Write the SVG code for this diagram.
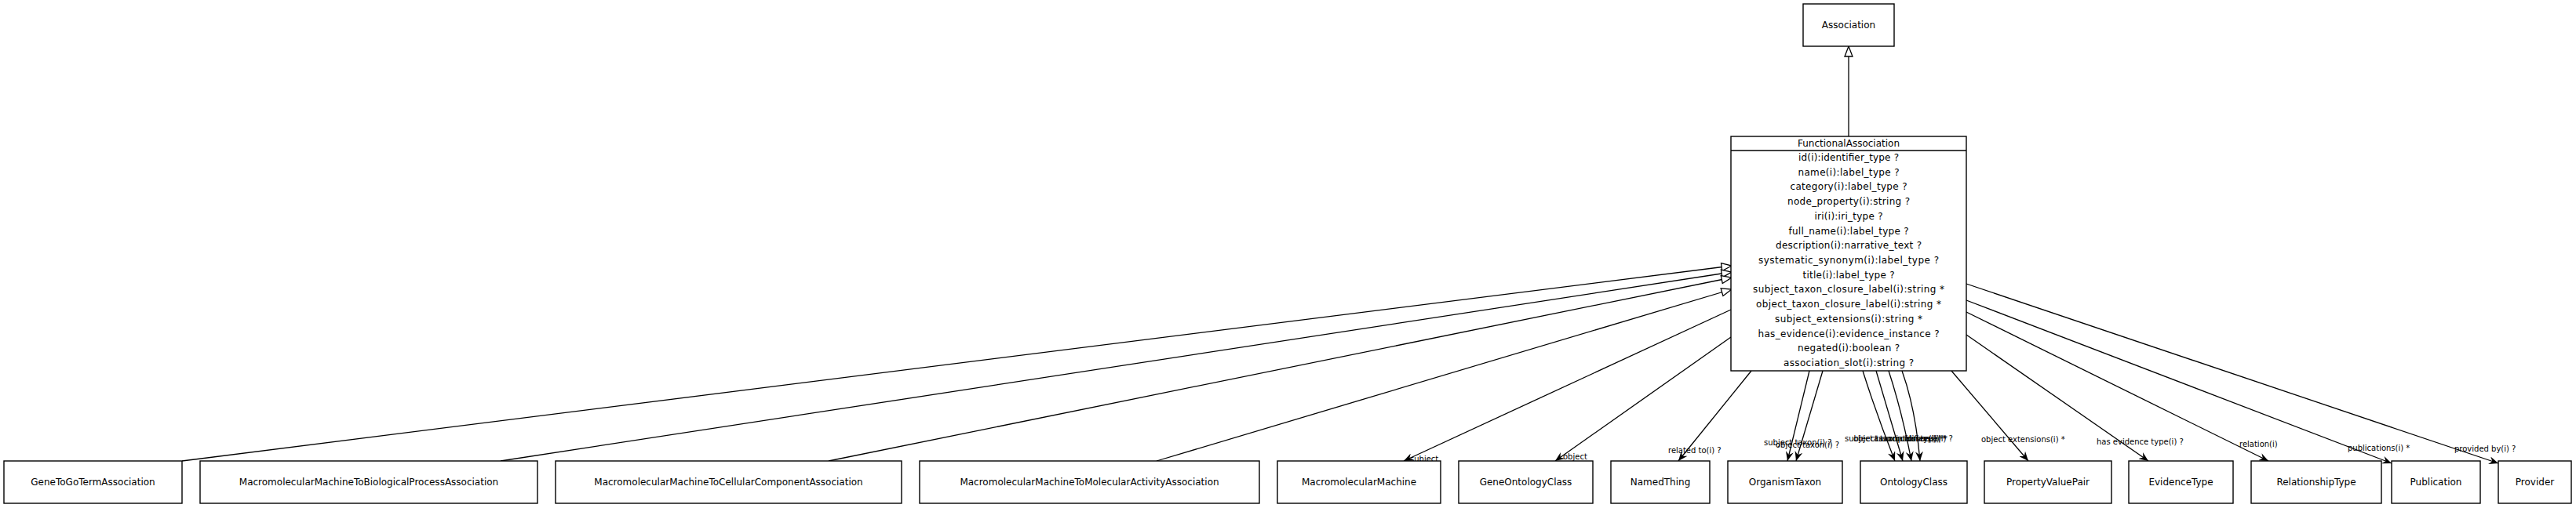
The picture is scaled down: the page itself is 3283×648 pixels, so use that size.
<svg xmlns="http://www.w3.org/2000/svg" width="3283" height="648" viewBox="0 0 3283 648">
<style>
.box{fill:#fff;stroke:#000;stroke-width:1.4}
.t{font-family:"DejaVu Sans",sans-serif;font-size:12px;fill:#000;text-anchor:middle}
.e{fill:none;stroke:#000;stroke-width:1.3}
.lbl{font-family:"DejaVu Sans",sans-serif;font-size:10px;fill:#000}
</style>
<defs>
<marker id="vee" markerUnits="userSpaceOnUse" viewBox="0 0 12 10" refX="12" refY="5" markerWidth="12" markerHeight="10" orient="auto"><path d="M0,0 L12,5 L0,10 L4,5 z" fill="#000"/></marker>
<marker id="tri" markerUnits="userSpaceOnUse" viewBox="-1 -1 15 12" refX="13" refY="5" markerWidth="15" markerHeight="12" orient="auto"><path d="M0,0 L13,5 L0,10 z" fill="#fff" stroke="#000" stroke-width="1.3"/></marker>
</defs>
<rect width="3283" height="648" fill="#fff"/>

<g id="connectors">
<line class="e" x1="2356" y1="174" x2="2356" y2="59" marker-end="url(#tri)"/>
<line class="e" x1="232" y1="588" x2="2207" y2="339" marker-end="url(#tri)"/>
<line class="e" x1="638" y1="588" x2="2207" y2="347" marker-end="url(#tri)"/>
<line class="e" x1="1056" y1="588" x2="2207" y2="354" marker-end="url(#tri)"/>
<line class="e" x1="1474" y1="588" x2="2207" y2="369" marker-end="url(#tri)"/>

<line class="e" x1="2206" y1="395" x2="1789" y2="588" marker-end="url(#vee)"/>
<text class="lbl" x="1797" y="589">subject</text>
<line class="e" x1="2206" y1="430" x2="1982" y2="588" marker-end="url(#vee)"/>
<text class="lbl" x="1992" y="586">object</text>
<line class="e" x1="2232" y1="473" x2="2139" y2="588" marker-end="url(#vee)"/>
<text class="lbl" x="2126" y="578">related to(i) ?</text>
<line class="e" x1="2306" y1="473" x2="2278" y2="588" marker-end="url(#vee)"/>
<text class="lbl" x="2248" y="568">subject taxon(i) ?</text>
<line class="e" x1="2323" y1="473" x2="2289" y2="588" marker-end="url(#vee)"/>
<text class="lbl" x="2263" y="571">object taxon(i) ?</text>
<path class="e" d="M2374,473 Q2392,530 2415,588" marker-end="url(#vee)"/>
<path class="e" d="M2391,473 Q2408,530 2425,588" marker-end="url(#vee)"/>
<path class="e" d="M2407,473 Q2424,525 2436,588" marker-end="url(#vee)"/>
<path class="e" d="M2424,473 Q2441,520 2447,588" marker-end="url(#vee)"/>
<text class="lbl" x="2351" y="563">subject taxon closure(i) *</text>
<text class="lbl" x="2362" y="563">object taxon closure(i) *</text>
<text class="lbl" x="2388" y="563">association type(i) ?</text>
<text class="lbl" x="2415" y="563">qualifiers(i) *</text>
<line class="e" x1="2487" y1="473" x2="2585" y2="588" marker-end="url(#vee)"/>
<text class="lbl" x="2525" y="564">object extensions(i) *</text>
<line class="e" x1="2506" y1="427" x2="2738" y2="588" marker-end="url(#vee)"/>
<text class="lbl" x="2672" y="567">has evidence type(i) ?</text>
<line class="e" x1="2506" y1="398" x2="2891" y2="588" marker-end="url(#vee)"/>
<text class="lbl" x="2854" y="570">relation(i)</text>
<line class="e" x1="2506" y1="383" x2="3048" y2="591" marker-end="url(#vee)"/>
<text class="lbl" x="2992" y="575">publications(i) *</text>
<line class="e" x1="2506" y1="362" x2="3184" y2="591" marker-end="url(#vee)"/>
<text class="lbl" x="3128" y="576">provided by(i) ?</text>
</g>

<g id="Association"><rect class="box" x="2298" y="5" width="116" height="54"/><text class="t" x="2356" y="36">Association</text></g>

<g id="FunctionalAssociation">
<rect class="box" x="2206" y="174" width="300" height="299"/>
<line x1="2206" y1="192" x2="2506" y2="192" stroke="#000" stroke-width="1.4"/>
<text class="t" x="2356" y="186.5">FunctionalAssociation</text>
<text class="t" x="2356" y="205" textLength="128" lengthAdjust="spacing">id(i):identifier_type ?</text>
<text class="t" x="2356" y="223.7" textLength="129" lengthAdjust="spacing">name(i):label_type ?</text>
<text class="t" x="2356" y="242.4" textLength="149" lengthAdjust="spacing">category(i):label_type ?</text>
<text class="t" x="2356" y="261.1" textLength="156" lengthAdjust="spacing">node_property(i):string ?</text>
<text class="t" x="2356" y="279.8" textLength="87" lengthAdjust="spacing">iri(i):iri_type ?</text>
<text class="t" x="2356" y="298.5" textLength="153" lengthAdjust="spacing">full_name(i):label_type ?</text>
<text class="t" x="2356" y="317.3" textLength="186" lengthAdjust="spacing">description(i):narrative_text ?</text>
<text class="t" x="2356" y="336" textLength="230" lengthAdjust="spacing">systematic_synonym(i):label_type ?</text>
<text class="t" x="2356" y="354.7" textLength="117" lengthAdjust="spacing">title(i):label_type ?</text>
<text class="t" x="2356" y="373.4" textLength="244" lengthAdjust="spacing">subject_taxon_closure_label(i):string *</text>
<text class="t" x="2356" y="392.1" textLength="236" lengthAdjust="spacing">object_taxon_closure_label(i):string *</text>
<text class="t" x="2356" y="410.8" textLength="188" lengthAdjust="spacing">subject_extensions(i):string *</text>
<text class="t" x="2356" y="429.6" textLength="231" lengthAdjust="spacing">has_evidence(i):evidence_instance ?</text>
<text class="t" x="2356" y="448.3" textLength="130" lengthAdjust="spacing">negated(i):boolean ?</text>
<text class="t" x="2356" y="467" textLength="166" lengthAdjust="spacing">association_slot(i):string ?</text>
</g>

<g id="GeneToGoTermAssociation"><rect class="box" x="5" y="588" width="227" height="54"/><text class="t" x="118.5" y="619">GeneToGoTermAssociation</text></g>
<g id="MacromolecularMachineToBiologicalProcessAssociation"><rect class="box" x="255" y="588" width="430" height="54"/><text class="t" x="470" y="619">MacromolecularMachineToBiologicalProcessAssociation</text></g>
<g id="MacromolecularMachineToCellularComponentAssociation"><rect class="box" x="708" y="588" width="441" height="54"/><text class="t" x="928.5" y="619">MacromolecularMachineToCellularComponentAssociation</text></g>
<g id="MacromolecularMachineToMolecularActivityAssociation"><rect class="box" x="1172" y="588" width="433" height="54"/><text class="t" x="1388.5" y="619">MacromolecularMachineToMolecularActivityAssociation</text></g>
<g id="MacromolecularMachine"><rect class="box" x="1628" y="588" width="208" height="54"/><text class="t" x="1732" y="619">MacromolecularMachine</text></g>
<g id="GeneOntologyClass"><rect class="box" x="1859" y="588" width="171" height="54"/><text class="t" x="1944.5" y="619">GeneOntologyClass</text></g>
<g id="NamedThing"><rect class="box" x="2053" y="588" width="126" height="54"/><text class="t" x="2116" y="619">NamedThing</text></g>
<g id="OrganismTaxon"><rect class="box" x="2202" y="588" width="146" height="54"/><text class="t" x="2275" y="619">OrganismTaxon</text></g>
<g id="OntologyClass"><rect class="box" x="2371" y="588" width="136" height="54"/><text class="t" x="2439" y="619">OntologyClass</text></g>
<g id="PropertyValuePair"><rect class="box" x="2529" y="588" width="162" height="54"/><text class="t" x="2610" y="619">PropertyValuePair</text></g>
<g id="EvidenceType"><rect class="box" x="2713" y="588" width="133" height="54"/><text class="t" x="2779.5" y="619">EvidenceType</text></g>
<g id="RelationshipType"><rect class="box" x="2869" y="588" width="166" height="54"/><text class="t" x="2952" y="619">RelationshipType</text></g>
<g id="Publication"><rect class="box" x="3048" y="588" width="113" height="54"/><text class="t" x="3104.5" y="619">Publication</text></g>
<g id="Provider"><rect class="box" x="3184" y="588" width="93" height="54"/><text class="t" x="3230.5" y="619">Provider</text></g>
</svg>
